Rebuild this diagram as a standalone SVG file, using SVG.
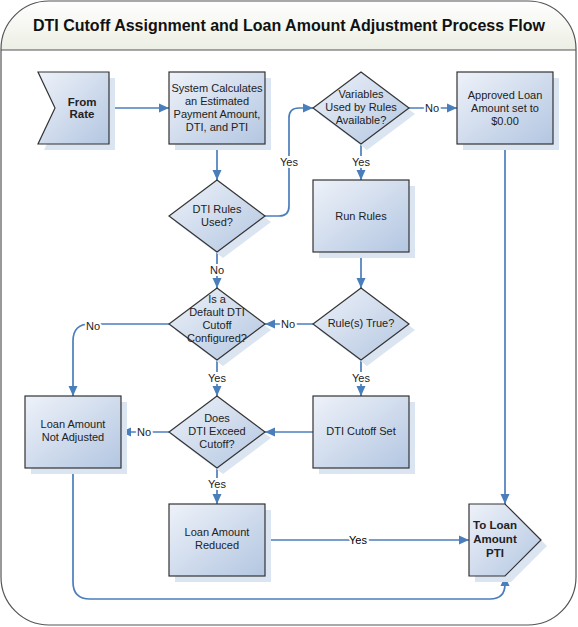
<svg xmlns="http://www.w3.org/2000/svg" width="578" height="627" viewBox="0 0 578 627">
<defs>
<linearGradient id="fillG" x1="0" y1="0" x2="1" y2="1">
<stop offset="0" stop-color="#eef2f9"/>
<stop offset="1" stop-color="#b3c6e1"/>
</linearGradient>
<linearGradient id="titleG" x1="0" y1="0" x2="0" y2="1">
<stop offset="0" stop-color="#ffffff"/>
<stop offset="1" stop-color="#ecefe4"/>
</linearGradient>
<marker id="arr" markerUnits="userSpaceOnUse" markerWidth="11" markerHeight="10" refX="10" refY="5" orient="auto">
<path d="M0,0.5 L10,5 L0,9.5 Z" fill="#4a7ebb"/>
</marker>
<style>
.shape{fill:url(#fillG);stroke:#333;stroke-width:1.2}
.shadow{fill:#dbe5f1;stroke:none}
.t{font-family:"Liberation Sans",Arial,sans-serif;font-size:11px;fill:#222;text-anchor:middle;dominant-baseline:central}
.b{font-weight:bold;font-size:11.5px}
.c{fill:none;stroke:#4a7ebb;stroke-width:1.6}
.ca{fill:none;stroke:#4a7ebb;stroke-width:1.7;marker-end:url(#arr)}
.lbl{font-family:"Liberation Sans",Arial,sans-serif;font-size:11px;fill:#222;text-anchor:middle;dominant-baseline:central;stroke:#fff;stroke-width:4;paint-order:stroke}
</style>
</defs>
<g id="frame">
<rect x="1" y="1" width="575" height="624" rx="48" ry="48" fill="#fff"/>
<path d="M1,50 L1,49 A48,48 0 0 1 49,1 L528,1 A48,48 0 0 1 576,49 L576,50 Z" fill="url(#titleG)"/>
<rect x="1" y="1" width="575" height="624" rx="48" ry="48" fill="none" stroke="#555" stroke-width="1.2"/>
<line x1="1" y1="50" x2="576" y2="50" stroke="#555" stroke-width="1.2"/>
<text x="289" y="25" style="font-family:'Liberation Sans',Arial,sans-serif;font-size:16px;font-weight:bold;fill:#111;text-anchor:middle;dominant-baseline:central">DTI Cutoff Assignment and Loan Amount Adjustment Process Flow</text>
</g>
<g id="connectors">
<path class="ca" d="M109,108 H169"/>
<path class="ca" d="M217,144 V180"/>
<path class="ca" d="M265,216 H279 Q289,216 289,206 V118 Q289,108 299,108 H313"/>
<path class="ca" d="M409,108 H457"/>
<path class="ca" d="M361,144 V180"/>
<path class="ca" d="M361,252 V288"/>
<path class="ca" d="M217,252 V288"/>
<path class="ca" d="M313,324 H265"/>
<path class="ca" d="M169,324 H90 Q73,324 73,341 V396"/>
<path class="ca" d="M217,360 V396"/>
<path class="ca" d="M361,360 V396"/>
<path class="ca" d="M313,432 H265"/>
<path class="ca" d="M169,432 H121"/>
<path class="ca" d="M217,468 V504"/>
<path class="ca" d="M265,540 H469"/>
<path class="ca" d="M505,144 V504"/>
<path class="ca" d="M73,468 V582 Q73,599 90,599 H490 Q505,599 505,584 V576"/>
<text class="lbl" x="289" y="162">Yes</text>
<text class="lbl" x="432" y="108">No</text>
<text class="lbl" x="361" y="162">Yes</text>
<text class="lbl" x="217" y="270">No</text>
<text class="lbl" x="288" y="324">No</text>
<text class="lbl" x="93" y="326">No</text>
<text class="lbl" x="217" y="378">Yes</text>
<text class="lbl" x="361" y="378">Yes</text>
<text class="lbl" x="144" y="432">No</text>
<text class="lbl" x="217" y="484">Yes</text>
<text class="lbl" x="358" y="540" style="fill:#000">Yes</text>
</g>
<g id="fromRate">
<path class="shadow" d="M44,78 L115,78 L115,150 L44,150 L61,114 Z"/>
<path class="shape" d="M38,72 L109,72 L109,144 L38,144 L55,108 Z"/>
<text class="t b" x="82" y="102">From</text>
<text class="t b" x="82" y="114">Rate</text>
</g>
<g id="systemCalc">
<rect class="shadow" x="175" y="78" width="96" height="72"/>
<rect class="shape" x="169" y="72" width="96" height="72"/>
<text class="t" x="217" y="88">System Calculates</text>
<text class="t" x="217" y="101">an Estimated</text>
<text class="t" x="217" y="114">Payment Amount,</text>
<text class="t" x="217" y="127">DTI, and PTI</text>
</g>
<g id="dtiRulesUsed">
<path class="shadow" d="M223,186 L271,222 L223,258 L175,222 Z"/>
<path class="shape" d="M217,180 L265,216 L217,252 L169,216 Z"/>
<text class="t" x="217" y="209">DTI Rules</text>
<text class="t" x="217" y="222">Used?</text>
</g>
<g id="variablesAvailable">
<path class="shadow" d="M367,78 L415,114 L367,150 L319,114 Z"/>
<path class="shape" d="M361,72 L409,108 L361,144 L313,108 Z"/>
<text class="t" x="361" y="94">Variables</text>
<text class="t" x="361" y="107">Used by Rules</text>
<text class="t" x="361" y="120">Available?</text>
</g>
<g id="approvedZero">
<rect class="shadow" x="463" y="78" width="96" height="72"/>
<rect class="shape" x="457" y="72" width="96" height="72"/>
<text class="t" x="505" y="95">Approved Loan</text>
<text class="t" x="505" y="108">Amount set to</text>
<text class="t" x="505" y="121">$0.00</text>
</g>
<g id="runRules">
<rect class="shadow" x="319" y="186" width="96" height="72"/>
<rect class="shape" x="313" y="180" width="96" height="72"/>
<text class="t" x="361" y="216">Run Rules</text>
</g>
<g id="rulesTrue">
<path class="shadow" d="M367,294 L415,330 L367,366 L319,330 Z"/>
<path class="shape" d="M361,288 L409,324 L361,360 L313,324 Z"/>
<text class="t" x="361" y="323">Rule(s) True?</text>
</g>
<g id="defaultCutoff">
<path class="shadow" d="M223,294 L271,330 L223,366 L175,330 Z"/>
<path class="shape" d="M217,288 L265,324 L217,360 L169,324 Z"/>
<text class="t" x="217" y="299">Is a</text>
<text class="t" x="217" y="312">Default DTI</text>
<text class="t" x="217" y="325">Cutoff</text>
<text class="t" x="217" y="338">Configured?</text>
</g>
<g id="notAdjusted">
<rect class="shadow" x="31" y="402" width="96" height="72"/>
<rect class="shape" x="25" y="396" width="96" height="72"/>
<text class="t" x="73" y="424">Loan Amount</text>
<text class="t" x="73" y="437">Not Adjusted</text>
</g>
<g id="dtiExceed">
<path class="shadow" d="M223,402 L271,438 L223,474 L175,438 Z"/>
<path class="shape" d="M217,396 L265,432 L217,468 L169,432 Z"/>
<text class="t" x="217" y="418">Does</text>
<text class="t" x="217" y="431">DTI Exceed</text>
<text class="t" x="217" y="444">Cutoff?</text>
</g>
<g id="cutoffSet">
<rect class="shadow" x="319" y="402" width="96" height="72"/>
<rect class="shape" x="313" y="396" width="96" height="72"/>
<text class="t" x="361" y="431">DTI Cutoff Set</text>
</g>
<g id="reduced">
<rect class="shadow" x="175" y="510" width="96" height="72"/>
<rect class="shape" x="169" y="504" width="96" height="72"/>
<text class="t" x="217" y="532">Loan Amount</text>
<text class="t" x="217" y="545">Reduced</text>
</g>
<g id="toLoanPTI">
<path class="shadow" d="M475,510 L511,510 L547,546 L511,582 L475,582 Z"/>
<path class="shape" d="M469,504 L505,504 L541,540 L505,576 L469,576 Z"/>
<text class="t b" x="495" y="525">To Loan</text>
<text class="t b" x="495" y="539">Amount</text>
<text class="t b" x="495" y="553">PTI</text>
</g>
</svg>
